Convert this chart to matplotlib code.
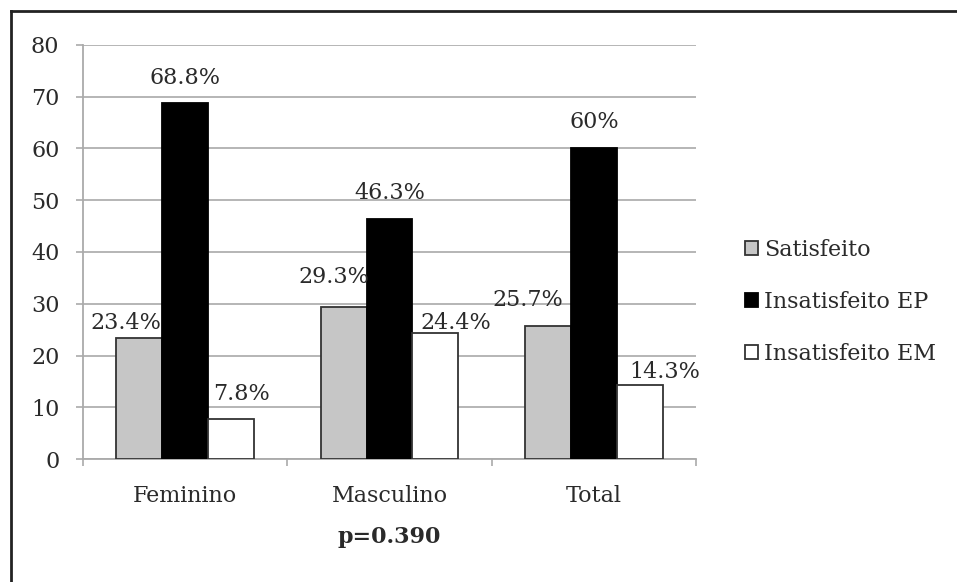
import matplotlib.pyplot as plt
import numpy as np
from matplotlib.patches import Patch
from matplotlib.lines import Line2D

categories = ["Feminino", "Masculino", "Total"]
series_names = ["Satisfeito", "Insatisfeito EP", "Insatisfeito EM"]
satisfeito = [23.4, 29.3, 25.7]
insatisfeito_ep = [68.8, 46.3, 60]
insatisfeito_em = [7.8, 24.4, 14.3]
value_labels = [["23.4%", "29.3%", "25.7%"],
                ["68.8%", "46.3%", "60%"],
                ["7.8%", "24.4%", "14.3%"]]

plt.rcParams['font.family'] = ['DejaVu Serif']

fills = ["#c6c6c6", "#000000", "#ffffff"]
edges = ["#333333", "#000000", "#333333"]
# label nudges (pixels) so the labels sit where they were placed by hand
nudge_x = [[-13, -10, -20], [0, 0, 0], [10, 20, 25]]
nudge_y = [[15, 30, 26], [25, 26, 26], [25, 10, 13]]

W, H = 957, 582
fig = plt.figure(figsize=(W / 100, H / 100), dpi=100)
ax = fig.add_axes([83 / W, 1 - 459 / H, (696 - 83) / W, (459 - 45) / H])

x = np.arange(len(categories))
width = 0.225
px2pt = 72 / 100
fs = 16
txt = "#2a2a2a"
for i, vals in enumerate([satisfeito, insatisfeito_ep, insatisfeito_em]):
    bars = ax.bar(x + (i - 1) * width, vals, width, color=fills[i],
                  edgecolor=edges[i], linewidth=1.3, zorder=3)
    for j, b in enumerate(bars):
        ax.annotate(value_labels[i][j], (b.get_x() + b.get_width() / 2, b.get_height()),
                    xytext=(nudge_x[i][j] * px2pt, nudge_y[i][j] * px2pt),
                    textcoords="offset points", ha="center", va="center",
                    fontsize=fs, color=txt, zorder=4)

ax.set_xlim(-0.5, 2.5)
ax.set_ylim(0, 80)
ax.set_yticks(range(0, 81, 10))
ax.set_xticks(x)
ax.set_xticklabels(categories)
ax.set_xticks([-0.5, 0.5, 1.5, 2.5], minor=True)
ax.tick_params(axis="x", which="major", length=0, pad=19, labelsize=fs, labelcolor=txt)
ax.tick_params(axis="x", which="minor", length=5, color="#aaaaaa", width=1.2)
ax.tick_params(axis="y", length=5, color="#aaaaaa", width=1.2, pad=12,
               labelsize=fs, labelcolor=txt)
ax.grid(axis="y", color="#b0b0b0", linewidth=1.3, zorder=0)
ax.set_axisbelow(True)
for s in ["top", "right"]:
    ax.spines[s].set_visible(False)
for s in ["left", "bottom"]:
    ax.spines[s].set_color("#aaaaaa")
    ax.spines[s].set_linewidth(1.3)

handles = [Patch(facecolor=fills[i], edgecolor=edges[i], linewidth=1.3) for i in range(3)]
fig.legend(handles, series_names, loc="center left",
           bbox_to_anchor=(734 / W, 1 - 302 / H), frameon=False, fontsize=fs,
           handlelength=0.6, handleheight=0.6, handletextpad=0.25,
           labelspacing=1.35, borderpad=0, labelcolor=txt)

fig.text(389 / W, 1 - 537 / H, "p=0.390", ha="center", va="center",
         fontsize=fs, fontweight="bold", color=txt)

# outer frame, running off the right and bottom edges
top = 1 - 11 / H
left = 11 / W
fig.add_artist(Line2D([left, 1.01], [top, top], transform=fig.transFigure,
                      color="#222222", linewidth=2))
fig.add_artist(Line2D([left, left], [-0.01, top], transform=fig.transFigure,
                      color="#222222", linewidth=2))

fig.savefig("out.png", dpi=100)
